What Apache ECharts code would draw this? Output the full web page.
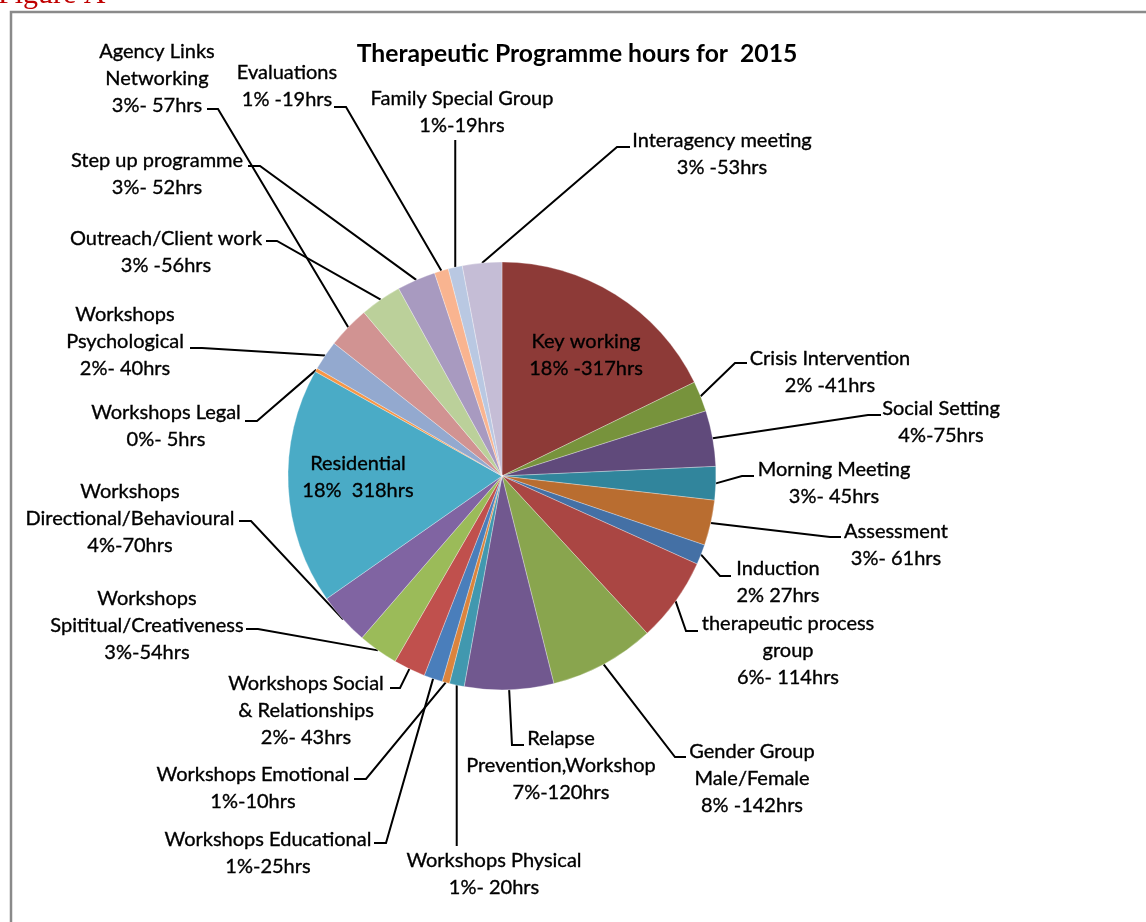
<!DOCTYPE html>
<html>
<head>
<meta charset="utf-8">
<script src="https://cdn.jsdelivr.net/npm/echarts@6/dist/echarts.min.js"></script>
<style>html,body{margin:0;padding:0;background:#fff;}#c{width:1146px;height:922px;}</style>
</head>
<body>
<div id="c"></div>
<script>
// ---- data ----
const categories = ['Key working','Crisis Intervention','Social Setting','Morning Meeting','Assessment','Induction',
  'therapeutic process group','Gender Group Male/Female','Relapse Prevention,Workshop','Workshops Physical',
  'Workshops Emotional','Workshops Educational','Workshops Social & Relationships','Workshops Spititual/Creativeness',
  'Workshops Directional/Behavioural','Residential','Workshops Legal','Workshops Psychological','Agency Links Networking',
  'Outreach/Client work','Step up programme','Evaluations','Family Special Group','Interagency meeting'];
const hours = [317,41,75,45,61,27,114,142,120,20,10,25,43,54,70,318,5,40,57,56,52,19,19,53];
const labelTexts = ['Key working\n18% -317hrs','Crisis Intervention\n2% -41hrs','Social Setting\n4%-75hrs',
  'Morning Meeting\n3%- 45hrs','Assessment\n3%- 61hrs','Induction\n2% 27hrs','therapeutic process\ngroup\n6%- 114hrs',
  'Gender Group\nMale/Female\n8% -142hrs','Relapse\nPrevention,Workshop\n7%-120hrs','Workshops Physical\n1%- 20hrs',
  'Workshops Emotional\n1%-10hrs','Workshops Educational\n1%-25hrs','Workshops Social\n& Relationships\n2%- 43hrs',
  'Workshops\nSpititual/Creativeness\n3%-54hrs','Workshops\nDirectional/Behavioural\n4%-70hrs','Residential\n18%  318hrs',
  'Workshops Legal\n0%- 5hrs','Workshops\nPsychological\n2%- 40hrs','Agency Links\nNetworking\n3%- 57hrs',
  'Outreach/Client work\n3% -56hrs','Step up programme\n3%- 52hrs','Evaluations\n1% -19hrs',
  'Family Special Group\n1%-19hrs','Interagency meeting\n3% -53hrs'];
const insideLabels = [0, 15];
const titleText = 'Therapeutic Programme hours for  2015';

// ---- styling / layout ----
const colors = ['#8D3A37','#77933C','#604A7B','#31859C','#B96D30','#4470A5','#AA4643','#89A54E','#71588F','#4198AF',
  '#DB843D','#4A7EBB','#C0504D','#9BBB59','#8064A2','#4AABC6','#F79646','#93A9CF','#D19392','#BBD09A','#A89AC0',
  '#F9B490','#B9C8E2','#C5BDD6'];
// label block centre [x, y], line anchor [x, y], stub offset (0 = straight line)
const labelLayoutTable = [
  [586,355, null,null,0],
  [830,372, 747,363,-12],
  [941,422, 881,415,-13],
  [834,483, 754,476,-12],
  [896,545, 841,537,-11],
  [778,582, 731,576,-11],
  [788,651, 698,631,-12],
  [752,779, 686,757,-11],
  [561,766, 524,745,-12],
  [494,874, 'v',846,0],
  [253,788, 354,779,12],
  [268,853, 374,843,12],
  [306,711, 390,688,10],
  [147,626, 246,629,12],
  [130,519, 239,521,12],
  [358,477, null,null,0],
  [166,426, 245,421,12],
  [125,342, 190,348,12],
  [157,79,  207,109,11],
  [166,252, 266,241,11],
  [157,174, 248,166,12],
  [287,86,  334,107,12],
  [462,112, 'v',140,0],
  [722,154, 630,147,-13]
];
const FONT = 'Lato, "Open Sans", sans-serif';
const CX = 502, CY = 476, R = 214;

const total = hours.reduce((a,b)=>a+b,0);
function edgePoint(i){
  let before = 0; for (let k=0;k<i;k++) before += hours[k];
  const a = (before + hours[i]/2) / total * 2 * Math.PI;
  return [CX + R*Math.sin(a), CY - R*Math.cos(a)];
}

const data = categories.map((name,i)=>{
  const d = { name, value: hours[i], itemStyle:{ color: colors[i] } };
  if (insideLabels.indexOf(i) >= 0) { d.label = { position:'inside' }; d.labelLine = { show:false }; }
  return d;
});

const chart = echarts.init(document.getElementById('c'), null, {renderer:'canvas'});
chart.setOption({
  backgroundColor:'#fff',
  animation:false,
  title:{ text:titleText, left:572, top:37, textAlign:'center',
    textStyle:{ fontFamily:FONT, fontWeight:'bold', fontSize:24.7, color:'#000' } },
  graphic:[
    { type:'rect', shape:{x:11,y:12,width:1200,height:1000}, style:{fill:null, stroke:'#8a8a8a', lineWidth:2.5}, z:-1 },
    { type:'text', left:-2, top:-20, style:{ text:'Figure A', fill:'#C00000', font:'30px "Liberation Serif", "DejaVu Serif", serif' } }
  ],
  series:[{
    type:'pie',
    center:[CX,CY], radius:R,
    startAngle:90, clockwise:true,
    avoidLabelOverlap:false,
    data,
    itemStyle:{ borderColor:'rgba(255,255,255,0.6)', borderWidth:0.5 },
    label:{ show:true, position:'outside', formatter:(p)=>labelTexts[p.dataIndex],
      fontFamily:FONT, fontSize:20, lineHeight:27, color:'#000', align:'center',
      textBorderColor:'#000', textBorderWidth:0.35 },
    labelLine:{ show:true, length:10, length2:10, lineStyle:{ color:'#000', width:2 } },
    emphasis:{ disabled:true },
    labelLayout:function(p){
      const L = labelLayoutTable[p.dataIndex];
      const res = { x:L[0], y:L[1], align:'center', verticalAlign:'middle' };
      if (L[2] !== null) {
        const e = (p.labelLinePoints && p.labelLinePoints[0]) ? p.labelLinePoints[0] : edgePoint(p.dataIndex);
        const pts = [[e[0], e[1]]];
        if (L[2] === 'v') { pts.push([e[0], L[3]]); }
        else {
          if (L[4]) pts.push([L[2] + L[4], L[3]]);
          pts.push([L[2], L[3]]);
        }
        res.labelLinePoints = pts;
      }
      return res;
    }
  }]
});
</script>
</body>
</html>
